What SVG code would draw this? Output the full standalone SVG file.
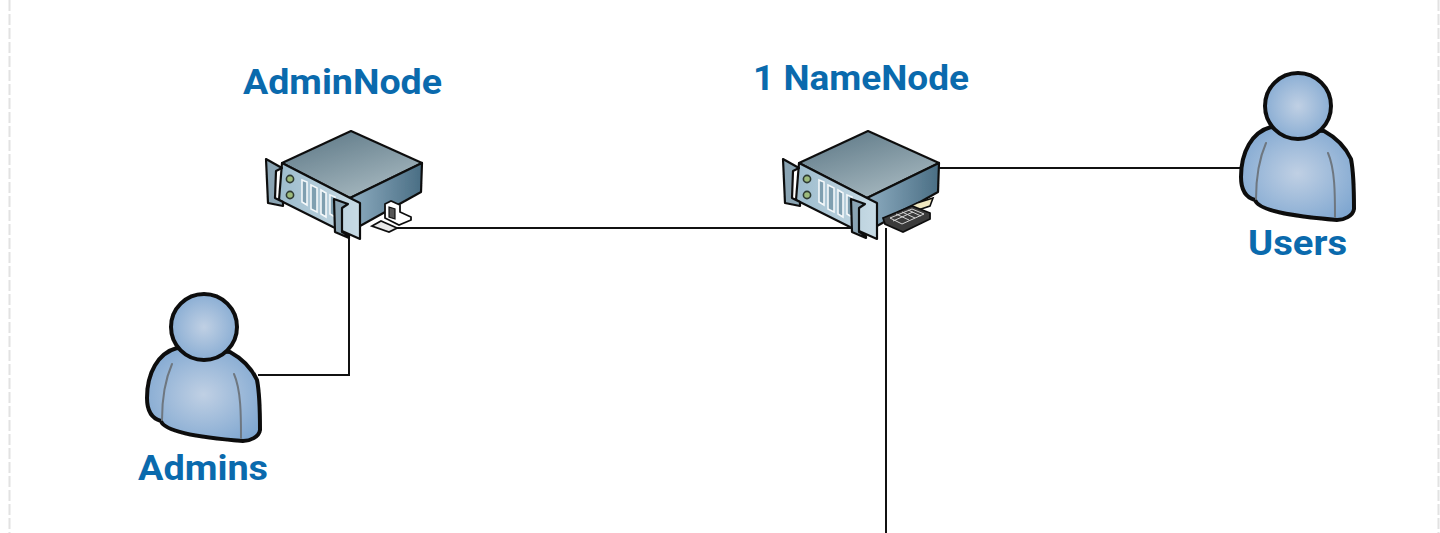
<svg xmlns="http://www.w3.org/2000/svg" width="1440" height="533" viewBox="0 0 1440 533">
<style>
.lbl{font-family:"Roboto","Liberation Sans",sans-serif;font-weight:700;font-size:35px;fill:#0a6aad}
.wire{fill:none;stroke:#111;stroke-width:2}
.edge{stroke:#111;stroke-width:2.2;stroke-linejoin:round}
.pers{stroke:#0d0d0d;stroke-width:4;stroke-linejoin:round}
.fold{fill:none;stroke:#6e7780;stroke-width:2;stroke-linecap:round}
.soft{filter:url(#soft)}
</style>
<defs>
<filter id="soft" x="-5%" y="-5%" width="110%" height="110%"><feGaussianBlur stdDeviation="0.55"/></filter>
<linearGradient id="top" x1="0.2" y1="0" x2="0.8" y2="1"><stop offset="0" stop-color="#5f7a88"/><stop offset="1" stop-color="#abbcc3"/></linearGradient>
<linearGradient id="side" x1="0" y1="0" x2="1" y2="0"><stop offset="0" stop-color="#8dacc0"/><stop offset="1" stop-color="#4a6e84"/></linearGradient>
<linearGradient id="front" x1="0" y1="0" x2="1" y2="0"><stop offset="0" stop-color="#9dbccd"/><stop offset="1" stop-color="#c8dbe5"/></linearGradient>
<radialGradient id="skin" cx="0.5" cy="0.5" r="0.62"><stop offset="0" stop-color="#c0d0e4"/><stop offset="1" stop-color="#7ea6d0"/></radialGradient>
<g id="server">
<path class="edge" fill="url(#top)" d="M351 131L422 163L350 198L282 163Z"/>
<path class="edge" fill="url(#side)" d="M350 198L422 163L421 192L360 226Z"/>
<path class="edge" fill="url(#front)" d="M282 163L350 198L360 203V239L333 227L279 200Z"/>
<path fill="#7f9fb0" stroke="#f4f8fa" stroke-width="1.6" d="M302 180l5 2v23l-5-3zM311 185l6 3v24l-6-3zM321 190l5 3v24l-5-3zM330 195l5 2v20l-5-3z"/>
<circle cx="290" cy="179" r="3.6" fill="#9dbb7c" stroke="#2d3a33" stroke-width="1.6"/>
<circle cx="290" cy="195" r="3.6" fill="#9dbb7c" stroke="#2d3a33" stroke-width="1.6"/>
<path class="edge" fill="#8aa4b3" stroke-width="2.6" d="M266 159L282 168L276 171L275 198L283 202V206L268 203Z"/>
<path class="edge" fill="#8aa4b3" stroke-width="2.6" d="M334 199L348 204L342 208V232L349 236V238L335 232Z"/>
</g>
<g id="person">
<path class="pers" fill="url(#skin)" d="M177 348C158 353 147 373 147 398C147 408 150 418 161 421C164 431 195 437 243 441C250 441 259 437 260 430C260 412 260 395 257 380C251 367 241 358 230 352Z"/>
<path class="fold" d="M172 364C165 380 162 398 162 420M234 374C241 390 241 415 241 438"/>
<circle class="pers" fill="url(#skin)" cx="204" cy="327" r="33"/>
</g>
</defs>
<rect width="1440" height="533" fill="#fff"/>
<path d="M9.5 0V533M1438.5 0V533" fill="none" stroke="#e2e2e2" stroke-width="2" stroke-dasharray="11 3"/>
<g id="connectors">
<path class="wire" d="M258 375H349V232"/>
<path class="wire" d="M397 228H862"/>
<path class="wire" d="M886 228V533"/>
<path class="wire" d="M938 168H1243"/>
</g>
<g id="adminnode">
<use href="#server" class="soft"/>
<g class="soft">
<path d="M372 226l9-5 16 7-8 4z" fill="#e8e8e8" stroke="#111" stroke-width="1.8"/>
<path d="M385 204l6-3 9 4v7l11 5v3l-12 5-14-7z" fill="#fff" stroke="#111" stroke-width="1.8"/>
<path d="M389 207l6 2v10l-6-2z" fill="#555" stroke="#111" stroke-width="1.2"/>
</g>
<text class="lbl" x="243" y="94" textLength="199" lengthAdjust="spacingAndGlyphs">AdminNode</text>
</g>
<g id="namenode">
<use href="#server" x="517" class="soft"/>
<g class="soft">
<path d="M892 215L917 203L933 198L930 206L912 212Z" fill="#f0e8c0" stroke="#111" stroke-width="1.6"/>
<path d="M883 218L912 206L930 213V219L903 232L885 224Z" fill="#3a3a3a" stroke="#111" stroke-width="1.8"/>
<path d="M890 218l22-9 12 5-22 10zM896 214l13 6M902 212l13 6M908 210l13 6M893 221l20-9" fill="none" stroke="#d5d5d5" stroke-width="1"/>
</g>
<text class="lbl" x="753" y="90" textLength="216" lengthAdjust="spacingAndGlyphs">1 NameNode</text>
</g>
<g id="users">
<use href="#person" x="1094" y="-221" class="soft"/>
<text class="lbl" x="1248" y="255" textLength="99" lengthAdjust="spacingAndGlyphs">Users</text>
</g>
<g id="admins">
<use href="#person" class="soft"/>
<text class="lbl" x="138" y="480" textLength="130" lengthAdjust="spacingAndGlyphs">Admins</text>
</g>
</svg>
